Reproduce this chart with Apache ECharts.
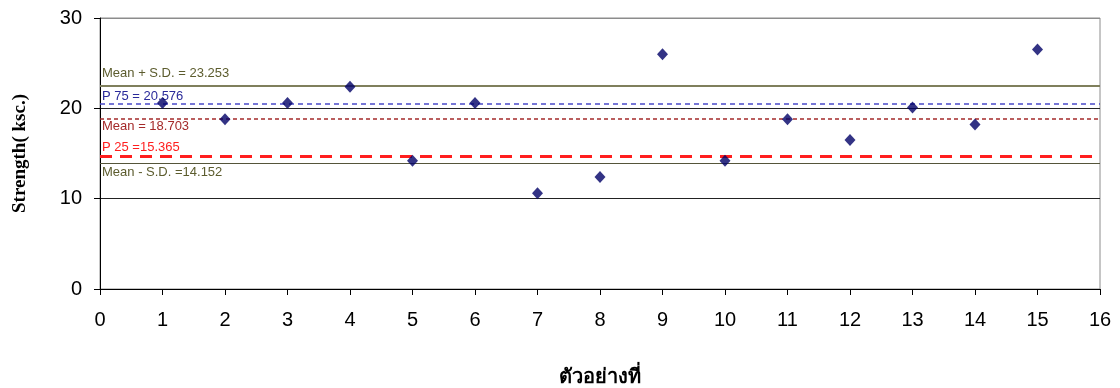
<!DOCTYPE html>
<html>
<head>
<meta charset="utf-8">
<script src="https://cdn.jsdelivr.net/npm/echarts@6/dist/echarts.min.js"></script>
<style>
  html, body { margin: 0; padding: 0; background: #fff; }
  #chart { width: 1120px; height: 388px; }
</style>
</head>
<body>
<div id="chart"></div>
<script>
  var sampleNo = [1, 2, 3, 4, 5, 6, 7, 8, 9, 10, 11, 12, 13, 14, 15];
  var strength = [20.6, 18.8, 20.6, 22.4, 14.2, 20.6, 10.6, 12.4, 26.0, 14.2, 18.8, 16.5, 20.1, 18.2, 26.5];

  // reference lines, as drawn in the picture
  var refNames = ['Mean + S.D. = 23.253', 'P 75 = 20.576', 'Mean = 18.703', 'P 25 =15.365', 'Mean - S.D. =14.152'];
  var refValues = [22.5, 20.5, 18.9, 14.7, 13.9];

  var refStyles = [
    { color: '#7f7f5c', width: 2, type: 'solid', text: '#5c5c2e', pos: 'insideStartTop', dist: [2, 6] },
    { color: '#4a4ac8', width: 1.5, type: [5, 4], text: '#2a2a9a', pos: 'insideStartTop', dist: [2, 1] },
    { color: '#a42a2a', width: 1.5, type: [4, 3], text: '#a42a2a', pos: 'insideStartBottom', dist: [2, 2] },
    { color: '#ff1e1e', width: 3, type: [12, 8], text: '#ff1e1e', pos: 'insideStartTop', dist: [2, 2] },
    { color: '#55553a', width: 1, type: 'solid', text: '#5c5c2e', pos: 'insideStartBottom', dist: [2, 2] }
  ];

  var markData = refValues.map(function (v, i) {
    var s = refStyles[i];
    return {
      yAxis: v,
      lineStyle: { color: s.color, width: s.width, type: s.type },
      label: {
        show: true,
        formatter: refNames[i],
        position: s.pos,
        distance: s.dist,
        color: s.text,
        fontFamily: 'Liberation Sans, Arial, sans-serif',
        fontSize: 13
      }
    };
  });

  var points = sampleNo.map(function (x, i) { return [x, strength[i]]; });

  var chart = echarts.init(document.getElementById('chart'));
  chart.setOption({
    animation: false,
    backgroundColor: '#fff',
    grid: {
      left: 100, right: 20, top: 18, bottom: 99,
      outerBoundsMode: 'none',
      containLabel: false,
      show: true, borderColor: '#8c8c8c', borderWidth: 1
    },
    xAxis: {
      type: 'value',
      min: 0, max: 16, interval: 1,
      name: 'ตัวอย่างที่',
      nameLocation: 'middle',
      nameGap: 79,
      nameTextStyle: { fontFamily: 'Liberation Serif, serif', fontWeight: 'bold', fontSize: 20, color: '#000' },
      axisLine: { onZero: false, lineStyle: { color: '#000', width: 1 } },
      axisTick: { show: true, length: 6, lineStyle: { color: '#000' } },
      axisLabel: { margin: 21, fontFamily: 'Liberation Sans, Arial, sans-serif', fontSize: 20, color: '#000' },
      splitLine: { show: false }
    },
    yAxis: {
      type: 'value',
      min: 0, max: 30, interval: 10,
      name: 'Strength( ksc.)',
      nameLocation: 'middle',
      nameGap: 70,
      nameTextStyle: { fontFamily: 'Liberation Serif, serif', fontWeight: 'bold', fontSize: 19, color: '#000' },
      axisLine: { show: true, lineStyle: { color: '#000', width: 1 } },
      axisTick: { show: true, length: 6, lineStyle: { color: '#000' } },
      axisLabel: { margin: 18, fontFamily: 'Liberation Sans, Arial, sans-serif', fontSize: 20, color: '#000' },
      splitLine: { show: true, lineStyle: { color: ['#000', '#222', '#222', '#8c8c8c'], width: 1 } }
    },
    series: [
      {
        type: 'scatter',
        data: points,
        symbol: 'diamond',
        symbolSize: [11, 12],
        itemStyle: { color: '#000066' },
        z: 5,
        markLine: {
          silent: true,
          symbol: 'none',
          animation: false,
          data: markData
        }
      }
    ]
  });
</script>
</body>
</html>
